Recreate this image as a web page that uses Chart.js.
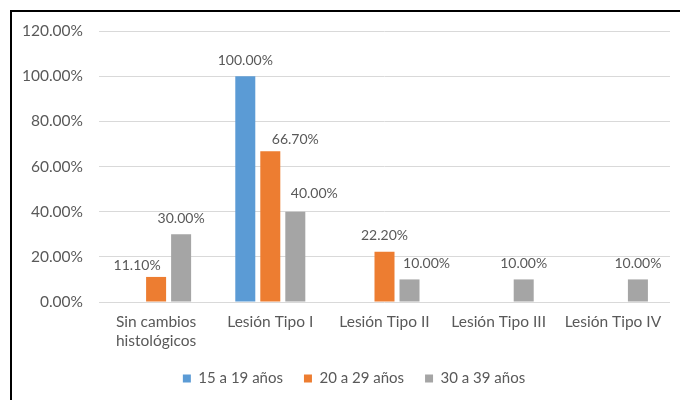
<!DOCTYPE html>
<html>
<head>
<meta charset="utf-8">
<script src="https://cdn.jsdelivr.net/npm/chart.js@4/dist/chart.umd.min.js"></script>
<style>
  html, body { margin: 0; padding: 0; background: #fff; overflow: hidden; }
  #wrap { position: relative; width: 680px; height: 400px; }
  #frame { position: absolute; left: 10px; top: 10px; width: 720px; height: 440px;
           border: 2px solid #000; box-sizing: border-box; }
  canvas { position: absolute; left: 0; top: 0; }
</style>
</head>
<body>
<div id="wrap">
  <div id="frame"></div>
  <canvas id="c" width="680" height="400"></canvas>
</div>
<script>
// Categories and series (percent values)
const categories = [['Sin cambios', 'histológicos'], 'Lesión Tipo I', 'Lesión Tipo II', 'Lesión Tipo III', 'Lesión Tipo IV'];
const seriesNames = ['15 a 19 años', '20 a 29 años', '30 a 39 años'];
const age15to19 = [0, 100.00, 0, 0, 0];
const age20to29 = [11.10, 66.70, 22.20, 0, 0];
const age30to39 = [30.00, 40.00, 10.00, 10.00, 10.00];
const yTicks = [0, 20, 40, 60, 80, 100, 120];

const colors = ['#5B9BD5', '#ED7D31', '#A5A5A5'];
const textColor = '#595959';
const fontFamily = 'Lato, "Open Sans", sans-serif';

// Hand-placed nudges for a few value labels: key "dataset-index" -> [dx, dy]
const labelNudges = {
  '1-0': [-19, 5],
  '1-1': [25, 4],
  '2-1': [19, -2],
  '2-2': [17, 0]
};

const valueLabels = {
  id: 'valueLabels',
  afterDatasetsDraw(chart) {
    const ctx = chart.ctx;
    ctx.save();
    ctx.font = '14px ' + fontFamily;
    ctx.fillStyle = textColor;
    ctx.textAlign = 'center';
    ctx.textBaseline = 'middle';
    chart.data.datasets.forEach((ds, di) => {
      const meta = chart.getDatasetMeta(di);
      meta.data.forEach((bar, i) => {
        const v = ds.data[i];
        if (!v) return;
        const n = labelNudges[di + '-' + i] || [0, 0];
        ctx.fillText(v.toFixed(2) + '%', bar.x + n[0], bar.y - 16 + n[1]);
      });
    });
    ctx.restore();
  }
};

// Centre the legend a little right of the canvas middle
const legendShift = {
  id: 'legendShift',
  afterLayout(chart) {
    if (chart.legend) {
      chart.legend.left += 19;
      chart.legend.right += 19;
    }
  }
};

new Chart(document.getElementById('c'), {
  type: 'bar',
  data: {
    labels: categories,
    datasets: [age15to19, age20to29, age30to39].map((d, k) => ({
      label: seriesNames[k],
      data: d,
      backgroundColor: colors[k],
      borderWidth: 0,
      barPercentage: 0.8,
      categoryPercentage: 0.657
    }))
  },
  options: {
    responsive: false,
    animation: false,
    devicePixelRatio: 1,
    layout: { padding: { left: 0, right: 10, top: 31, bottom: 4 } },
    plugins: {
      legend: {
        position: 'bottom',
        labels: {
          color: textColor,
          font: { family: fontFamily, size: 15 },
          boxWidth: 8,
          boxHeight: 8,
          padding: 21
        }
      },
      tooltip: { enabled: false }
    },
    scales: {
      x: {
        grid: { display: false },
        border: { display: false },
        ticks: {
          color: textColor,
          font: { family: fontFamily, size: 15.5, lineHeight: 1.25 },
          padding: 2,
          maxRotation: 0,
          autoSkip: false
        },
        afterFit(scale) { scale.height = 48; }
      },
      y: {
        min: 0,
        max: 120,
        afterBuildTicks(scale) { scale.ticks = yTicks.map(v => ({ value: v })); },
        grid: { color: '#D9D9D9', lineWidth: 1, drawTicks: false },
        border: { display: false },
        ticks: {
          color: textColor,
          font: { family: fontFamily, size: 15.5 },
          padding: 16,
          callback: v => Number(v).toFixed(2) + '%'
        },
        afterFit(scale) { scale.width = 99; }
      }
    }
  },
  plugins: [valueLabels, legendShift]
});
</script>
</body>
</html>
